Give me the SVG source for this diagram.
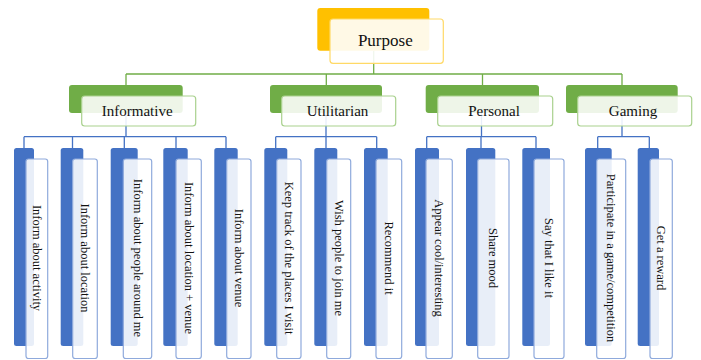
<svg xmlns="http://www.w3.org/2000/svg" width="701" height="360" viewBox="0 0 701 360">
<style>
.bg{fill:#ffffff}
.orange{fill:#FFC000}
.green{fill:#70AD47}
.blue{fill:#4472C4}
.wp{fill:#ffffff;fill-opacity:0.9;stroke:#FFD966;stroke-width:1.2}
.wg{fill:#ffffff;fill-opacity:0.88;stroke:#A9D18E;stroke-width:1.2}
.wb{fill:#ffffff;fill-opacity:0.88;stroke:#8FAADC;stroke-width:1.2}
.cg{stroke:#70AD47;stroke-width:1.3;fill:none}
.cb{stroke:#4472C4;stroke-width:1.3;fill:none}
text{font-family:"Liberation Serif","Times New Roman",serif;fill:#111111}
.t1{font-size:17px;text-anchor:middle}
.t2{font-size:15px;text-anchor:middle}
.t3{font-size:12.5px;text-anchor:middle;dominant-baseline:central}
</style>
<rect class="bg" x="0" y="0" width="701" height="360"/>
<g id="connectors">
<path class="cg" d="M373.7 50.7V74M126 74H622M126 74V85M326.3 74V85M482.5 74V85M622 74V85"/>
<path class="cb" d="M126 113V136.7M24 136.7H226M24 136.7V148M72.5 136.7V148M124.3 136.7V148M176 136.7V148M226 136.7V148"/>
<path class="cb" d="M326 113V136.7M275.7 136.7H376.7M275.7 136.7V148M326 136.7V148M376.7 136.7V148"/>
<path class="cb" d="M481.5 113V136.7M426.7 136.7H536M426.7 136.7V148M481 136.7V148M536 136.7V148"/>
<path class="cb" d="M622 113V136.7M597.7 136.7H649.3M597.7 136.7V148M649.3 136.7V148"/>
</g>
<g id="purpose">
<rect class="orange" x="317.3" y="8" width="112" height="42.7" rx="3"/>
<rect class="wp" x="330" y="19" width="113.3" height="44.3" rx="3"/>
<text class="t1" x="385.3" y="46">Purpose</text>
</g>
<g id="informative">
<rect class="green" x="69" y="85" width="113.7" height="28" rx="3"/>
<rect class="wg" x="81.7" y="96" width="114" height="30" rx="3"/>
<text class="t2" x="137.2" y="115.5">Informative</text>
</g>
<g id="utilitarian">
<rect class="green" x="270" y="85" width="112" height="28" rx="3"/>
<rect class="wg" x="281.7" y="96" width="114" height="30" rx="3"/>
<text class="t2" x="337.5" y="115.5">Utilitarian</text>
</g>
<g id="personal">
<rect class="green" x="425.7" y="85" width="113.3" height="28" rx="3"/>
<rect class="wg" x="437.7" y="96" width="115" height="30" rx="3"/>
<text class="t2" x="494" y="115.5">Personal</text>
</g>
<g id="gaming">
<rect class="green" x="566" y="85" width="111.7" height="28" rx="3"/>
<rect class="wg" x="577.7" y="96" width="114" height="30" rx="3"/>
<text class="t2" x="633" y="115.5">Gaming</text>
</g>
<g id="leaf1">
<rect class="blue" x="14" y="148" width="20" height="198" rx="2.5"/>
<rect class="wb" x="26" y="159" width="21.7" height="199.5" rx="2.5"/>
<text class="t3" transform="translate(36.8 258) rotate(90)">Inform about activity</text>
</g>
<g id="leaf2">
<rect class="blue" x="60.7" y="148" width="22.6" height="198" rx="2.5"/>
<rect class="wb" x="72.7" y="159" width="24.6" height="199.5" rx="2.5"/>
<text class="t3" transform="translate(85 258) rotate(90)">Inform about location</text>
</g>
<g id="leaf3">
<rect class="blue" x="110.7" y="148" width="27" height="198" rx="2.5"/>
<rect class="wb" x="123.3" y="159" width="28.4" height="199.5" rx="2.5"/>
<text class="t3" transform="translate(137.5 258) rotate(90)">Inform about people around me</text>
</g>
<g id="leaf4">
<rect class="blue" x="163.3" y="148" width="24.4" height="198" rx="2.5"/>
<rect class="wb" x="176" y="159" width="25.3" height="199.5" rx="2.5"/>
<text class="t3" transform="translate(188.7 258) rotate(90)">Inform about location + venue</text>
</g>
<g id="leaf5">
<rect class="blue" x="214.3" y="148" width="23.4" height="198" rx="2.5"/>
<rect class="wb" x="226.7" y="159" width="24.3" height="199.5" rx="2.5"/>
<text class="t3" transform="translate(238.8 258) rotate(90)">Inform about venue</text>
</g>
<g id="leaf6">
<rect class="blue" x="264.3" y="148" width="23" height="198" rx="2.5"/>
<rect class="wb" x="276.7" y="159" width="24.3" height="199.5" rx="2.5"/>
<text class="t3" transform="translate(288.8 258) rotate(90)">Keep track of the places I visit</text>
</g>
<g id="leaf7">
<rect class="blue" x="314.3" y="148" width="23" height="198" rx="2.5"/>
<rect class="wb" x="326.7" y="159" width="24" height="199.5" rx="2.5"/>
<text class="t3" transform="translate(338.7 258) rotate(90)">Wish people to join me</text>
</g>
<g id="leaf8">
<rect class="blue" x="364" y="148" width="23.7" height="198" rx="2.5"/>
<rect class="wb" x="376" y="159" width="25.7" height="199.5" rx="2.5"/>
<text class="t3" transform="translate(388.8 258) rotate(90)">Recommend it</text>
</g>
<g id="leaf9">
<rect class="blue" x="415" y="148" width="24" height="198" rx="2.5"/>
<rect class="wb" x="426" y="159" width="26.3" height="199.5" rx="2.5"/>
<text class="t3" transform="translate(439.2 258) rotate(90)">Appear cool/interesting</text>
</g>
<g id="leaf10">
<rect class="blue" x="466" y="148" width="29.3" height="198" rx="2.5"/>
<rect class="wb" x="477.7" y="159" width="31.3" height="199.5" rx="2.5"/>
<text class="t3" transform="translate(493.3 258) rotate(90)">Share mood</text>
</g>
<g id="leaf11">
<rect class="blue" x="522.3" y="148" width="27.7" height="198" rx="2.5"/>
<rect class="wb" x="534" y="159" width="30" height="199.5" rx="2.5"/>
<text class="t3" transform="translate(549 258) rotate(90)">Say that I like it</text>
</g>
<g id="leaf12">
<rect class="blue" x="585" y="148" width="26.7" height="198" rx="2.5"/>
<rect class="wb" x="596.7" y="159" width="29" height="199.5" rx="2.5"/>
<text class="t3" transform="translate(611.2 258) rotate(90)">Participate in a game/competition</text>
</g>
<g id="leaf13">
<rect class="blue" x="637.7" y="148" width="21.3" height="198" rx="2.5"/>
<rect class="wb" x="650" y="159" width="22.3" height="199.5" rx="2.5"/>
<text class="t3" transform="translate(661.2 258) rotate(90)">Get a reward</text>
</g>
</svg>
